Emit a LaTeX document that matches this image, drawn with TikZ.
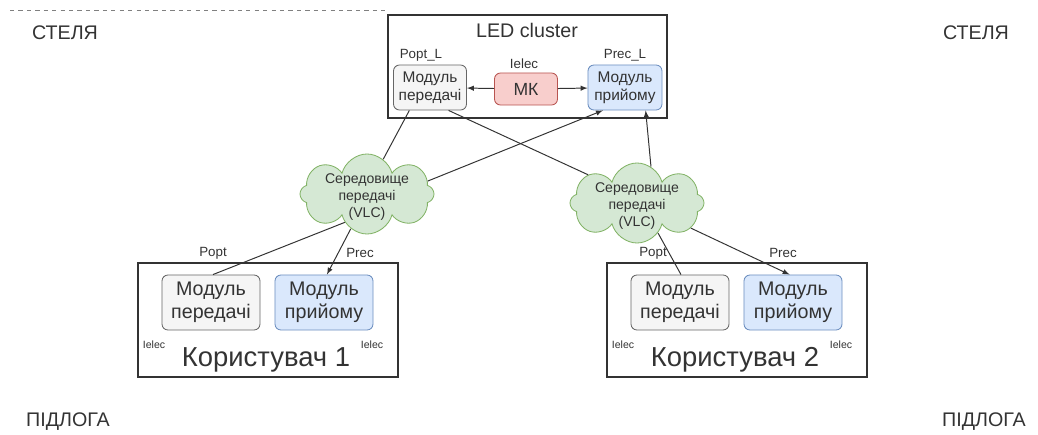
\documentclass[tikz,border=0pt]{standalone}
\usepackage{fontspec}
\setmainfont{Liberation Sans}
\usetikzlibrary{shapes.symbols}
\definecolor{txfill}{HTML}{F5F5F5}
\definecolor{txline}{HTML}{666666}
\definecolor{rxfill}{HTML}{DAE8FC}
\definecolor{rxline}{HTML}{6C8EBF}
\definecolor{mkfill}{HTML}{F8CECC}
\definecolor{mkline}{HTML}{B85450}
\definecolor{vlcfill}{HTML}{D5E8D4}
\definecolor{vlcline}{HTML}{82B366}
\definecolor{ink}{HTML}{333333}
\tikzset{
    wall/.style={font=\fontsize{14}{16}\selectfont, text=ink},
    frame/.style={draw=ink, line width=0.8pt, inner sep=0},
    module/.style={rounded corners=0.15cm, align=center, inner sep=0, text=ink, line width=0.6pt},
    txmod/.style={module, draw=txline, fill=txfill},
    rxmod/.style={module, draw=rxline, fill=rxfill},
    vlc/.style={cloud, cloud puffs=8, aspect=2.1, draw=vlcline, fill=vlcfill,
        inner sep=0, minimum width=3.35cm, minimum height=2cm, line width=0.6pt,
        label={[align=center, font=\fontsize{10}{12}\selectfont, text=ink, yshift=-0.08cm]center:#1}},
    tag/.style={font=\fontsize{9.5}{11}\selectfont, text=ink, inner sep=1pt},
    link/.style={draw=ink, line width=0.7pt},
}
\begin{document}
\begin{tikzpicture}[>=latex, x=0.025cm, y=-0.025cm]
\useasboundingbox (0,0) rectangle (1038,434);
\draw[dashed, gray] (10,10)--(387,10);
\foreach \x/\y/\txt in {65/33/СТЕЛЯ, 976/33/СТЕЛЯ, 68/422/ПІДЛОГА, 984/422/ПІДЛОГА}
{
    \node[wall] at (\x,\y){\txt};
}

% LED cluster
\node[frame, minimum width=6.975cm, minimum height=2.575cm] (cluster) at (527.5,66.5){};
\node[font=\fontsize{14}{16}\selectfont, text=ink] (title) at (527,30){LED cluster};
\node[txmod, minimum width=1.825cm, minimum height=1.125cm, font=\fontsize{11}{13}\selectfont] (txL) at (430,87.5){Модуль\\передачі};
\node[rxmod, minimum width=1.85cm, minimum height=1.125cm, font=\fontsize{11}{13}\selectfont] (rxL) at (625,87.5){Модуль\\прийому};
\node[module, draw=mkline, fill=mkfill, minimum width=1.575cm, minimum height=0.8cm, font=\fontsize{12.5}{14}\selectfont] (mk) at (526,89){МК};
\node[tag] (poptL) at (421,55){Popt\_L};
\node[tag] (ielecL) at (524,64){Ielec};
\node[tag] (precL) at (625,55){Prec\_L};
\draw[link,->] (mk)--(txL);
\draw[link,->] (mk)--(rxL);

% VLC
\node[vlc={Середовище\\передачі\\(VLC)}] (med1) at (367,194){};
\node[vlc={Середовище\\передачі\\(VLC)}] (med2) at (637,203){};

% users
\foreach \i/\dx in {1/0, 2/469}
{
    \node[frame, minimum width=6.5cm, minimum height=2.85cm] (user\i) at (268+\dx,320){};
    \node[txmod, minimum width=2.45cm, minimum height=1.375cm, font=\fontsize{14}{16.5}\selectfont] (tx\i) at (211+\dx,302.5){Модуль\\передачі};
    \node[rxmod, minimum width=2.45cm, minimum height=1.375cm, font=\fontsize{14}{16.5}\selectfont] (rx\i) at (324+\dx,302.5){Модуль\\прийому};
    \node[anchor=base, font=\fontsize{19.5}{22}\selectfont, text=ink] (name\i) at (266+\dx,366){Користувач \i};
    \node[font=\fontsize{7.5}{9}\selectfont, text=ink] (ielecA\i) at (154+\dx,345){Ielec};
    \node[font=\fontsize{7.5}{9}\selectfont, text=ink] (ielecB\i) at (372+\dx,345){Ielec};
}
\node[tag] (popt1) at (213,253){Popt};
\node[tag] (prec1) at (360,253){Prec};
\node[tag] (popt2) at (653,253){Popt};
\node[tag] (prec2) at (783,253){Prec};

\draw[link] (txL.228)--(med1.65);
\draw[link] (txL.309)--(med2.150);
\draw[link,->] (med1.12)--(rxL.226);
\draw[link,->] (med2.69)--(rxL.312);
\draw[link] (med1.232)--(tx1.86);
\draw[link,->] (med1.245)--(rx1.84);
\draw[link] (med2.305)--(tx2.88);
\draw[link,->] (med2.335)--(rx2.97);

\end{tikzpicture}
\end{document}
